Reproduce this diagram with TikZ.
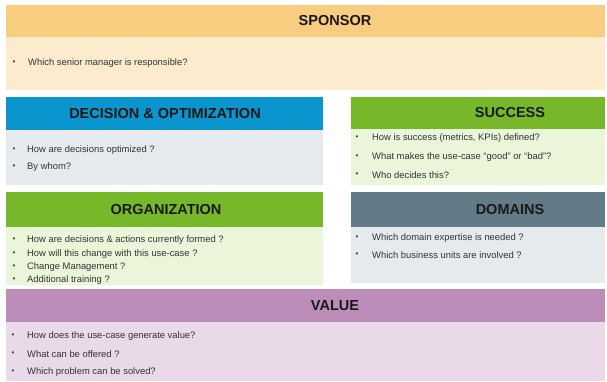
\documentclass[tikz,border=0pt]{standalone}
\usepackage{fontspec}
\setmainfont{Liberation Sans}
\usetikzlibrary{positioning}

\definecolor{sponsorHd}{HTML}{F8CD80}
\definecolor{sponsorBd}{HTML}{FDEBCD}
\definecolor{decHd}{HTML}{0A95CF}
\definecolor{greyBd}{HTML}{E7EAED}
\definecolor{greenHd}{HTML}{77B82A}
\definecolor{greenBd}{HTML}{EBF5DA}
\definecolor{domHd}{HTML}{637B87}
\definecolor{valHd}{HTML}{BD8DB9}
\definecolor{valBd}{HTML}{E9D9E9}

\begin{document}
\begin{tikzpicture}[
  x=1pt, y=-1pt,
  panel/.style={anchor=north west, inner sep=0pt, outer sep=0pt},
  title/.style={font=\fontsize{14.5}{17}\selectfont\bfseries, text=black!90},
  dot/.style={anchor=center, font=\fontsize{8}{9}\selectfont, text=black!75, inner sep=0pt},
  item/.style={anchor=west, font=\fontsize{9.4}{11}\selectfont, text=black!80, inner sep=0pt}
]
\useasboundingbox (0,0) rectangle (607,381);

% sponsor
\node[panel, fill=sponsorHd, minimum width=599pt, minimum height=32pt] (sponsorHead) at (6,5) {};
\node[panel, fill=sponsorBd, minimum width=599pt, minimum height=53pt] (sponsorBody) at (sponsorHead.south west) {};
\node[title] (sponsorTitle) at (335,21) {SPONSOR};
\node[dot] (sponsorDot) at (14,63) {•};
\node[item] (sponsorItem) at (28,63) {Which senior manager is responsible?};

% decision & optimization
\node[panel, fill=decHd, minimum width=317pt, minimum height=33pt] (decHead) at (6,97) {};
\node[panel, fill=greyBd, minimum width=317pt, minimum height=55pt] (decBody) at (decHead.south west) {};
\node[title] (decTitle) at (165,114) {DECISION \& OPTIMIZATION};
\foreach \y/\t in {150/How are decisions optimized ?, 167/By whom?} {
  \node[dot] (decDot\y) at (14,\y) {•};
  \node[item] (decItem\y) at (27,\y) {\t};
}

% success
\node[panel, fill=greenHd, minimum width=254pt, minimum height=32pt] (sucHead) at (351,97) {};
\node[panel, fill=greenBd, minimum width=254pt, minimum height=56pt] (sucBody) at (sucHead.south west) {};
\node[title] (sucTitle) at (510,113) {SUCCESS};
\foreach \y/\t in {138/{How is success (metrics, KPIs) defined?}, 157/{What makes the use-case “good” or “bad”?}, 175/{Who decides this?}} {
  \node[dot] (sucDot\y) at (357,\y) {•};
  \node[item] (sucItem\y) at (372,\y) {\t};
}

% organization
\node[panel, fill=greenHd, minimum width=317pt, minimum height=35pt] (orgHead) at (6,192) {};
\node[panel, fill=greenBd, minimum width=317pt, minimum height=58pt] (orgBody) at (orgHead.south west) {};
\node[title] (orgTitle) at (166,210) {ORGANIZATION};
\foreach \y/\t in {240/How are decisions \& actions currently formed ?, 254/How will this change with this use-case ?, 267/Change Management ?, 280/Additional training ?} {
  \node[dot] (orgDot\y) at (14,\y) {•};
  \node[item] (orgItem\y) at (27,\y) {\t};
}

% domains
\node[panel, fill=domHd, minimum width=254pt, minimum height=35pt] (domHead) at (351,192) {};
\node[panel, fill=greyBd, minimum width=254pt, minimum height=56pt] (domBody) at (domHead.south west) {};
\node[title] (domTitle) at (510,210) {DOMAINS};
\foreach \y/\t in {238/Which domain expertise is needed ?, 255/Which business units are involved ?} {
  \node[dot] (domDot\y) at (357,\y) {•};
  \node[item] (domItem\y) at (372,\y) {\t};
}

% value
\node[panel, fill=valHd, minimum width=599pt, minimum height=33pt] (valHead) at (6,289) {};
\node[panel, fill=valBd, minimum width=599pt, minimum height=59pt] (valBody) at (valHead.south west) {};
\node[title] (valTitle) at (335,306) {VALUE};
\foreach \y/\t in {336/How does the use-case generate value?, 354/What can be offered ?, 372/Which problem can be solved?} {
  \node[dot] (valDot\y) at (13,\y) {•};
  \node[item] (valItem\y) at (27,\y) {\t};
}
\end{tikzpicture}
\end{document}
